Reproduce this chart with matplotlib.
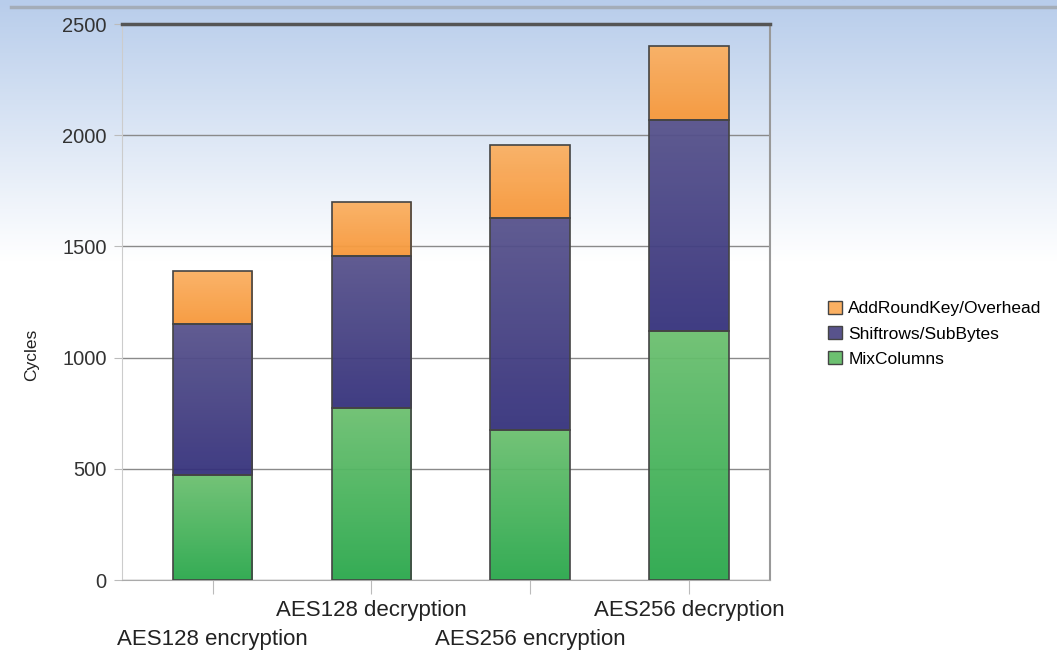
import numpy as np
import matplotlib.pyplot as plt
from matplotlib.colors import LinearSegmentedColormap

# data
categories = ['AES128 encryption', 'AES128 decryption', 'AES256 encryption', 'AES256 decryption']
mixcolumns = [470, 773, 675, 1120]
shiftrows = [680, 684, 953, 948]
addroundkey = [240, 243, 328, 333]
y_ticks = [0, 500, 1000, 1500, 2000, 2500]

series = [
    ('MixColumns', mixcolumns, '#6cc070', '#2aa84c'),
    ('Shiftrows/SubBytes', shiftrows, '#58538c', '#36327c'),
    ('AddRoundKey/Overhead', addroundkey, '#fbb062', '#f7983a'),
]

plt.rcParams['font.family'] = ['Liberation Sans', 'DejaVu Sans']

fig = plt.figure(figsize=(10.57, 6.51), dpi=100)

# slide background gradient
bg = fig.add_axes([0, 0, 1, 1], zorder=-10)
grad = np.linspace(0, 1, 256).reshape(-1, 1)
bg_cmap = LinearSegmentedColormap.from_list('bg', [(0, '#b8cdeb'), (0.4, '#ffffff'), (1, '#ffffff')])
bg.imshow(grad, aspect='auto', cmap=bg_cmap, extent=[0, 1, 0, 1], origin='upper')
bg.plot([0.01, 1], [1 - 7 / 651, 1 - 7 / 651], color='#a4adb8', lw=2.5)
bg.set_xlim(0, 1)
bg.set_ylim(0, 1)
bg.axis('off')

ax = fig.add_axes([122 / 1057, 1 - 580 / 651, (770 - 122) / 1057, (580 - 24) / 651])
ax.patch.set_alpha(0)

x = np.arange(len(categories))
bottom = np.zeros(len(categories))
handles = []
for name, vals, c_top, c_bot in series:
    bars = ax.bar(x, vals, 0.5, bottom=bottom, facecolor='none', edgecolor='#444444',
                  linewidth=1.2, zorder=3)
    cmap = LinearSegmentedColormap.from_list(name, [c_bot, c_top])
    for b in bars:
        bx, by = b.get_x(), b.get_y()
        im = ax.imshow(np.linspace(0, 1, 100).reshape(-1, 1), cmap=cmap, aspect='auto',
                       origin='lower', extent=[bx, bx + b.get_width(), by, by + b.get_height()],
                       zorder=2, alpha=0.95)
        im.set_clip_path(b)
    handles.append(plt.Rectangle((0, 0), 1, 1, facecolor=c_top, edgecolor='#444444'))
    bottom = bottom + np.array(vals)

ax.set_xlim(-0.57, 3.51)
ax.set_ylim(0, 2500)
ax.set_yticks(y_ticks)
ax.set_yticklabels([str(v) for v in y_ticks], fontsize=14.5, color='#333333')
ax.yaxis.grid(True, color='#8a8a8a', lw=1, zorder=1)
ax.set_axisbelow(True)
ax.tick_params(axis='y', length=6, color='#bbbbbb', pad=5)

ax.set_xticks(x)
ax.set_xticklabels([])
ax.tick_params(axis='x', length=10, color='#bbbbbb')
for i, cat in enumerate(categories):
    yoff = -0.088 if i % 2 == 0 else -0.036
    ax.text(i, yoff, cat, transform=ax.get_xaxis_transform(), ha='center', va='top',
            fontsize=16, color='#222222')

ax.spines['top'].set_color('#555555')
ax.spines['top'].set_linewidth(2.5)
ax.spines['right'].set_color('#999999')
ax.spines['right'].set_linewidth(1.5)
ax.spines['left'].set_color('#cccccc')
ax.spines['bottom'].set_color('#aaaaaa')

ax.set_ylabel('Cycles', fontsize=12.5, color='#222222')
ax.yaxis.set_label_coords(-0.128, 0.405)

fig.legend(handles[::-1], [s[0] for s in series][::-1], loc='upper left',
           bbox_to_anchor=(812 / 1057, 1 - 285 / 651), frameon=False, fontsize=12.5,
           handlelength=0.8, handleheight=0.8, handletextpad=0.4, labelspacing=0.55)

fig.savefig('out.png', dpi=100)
